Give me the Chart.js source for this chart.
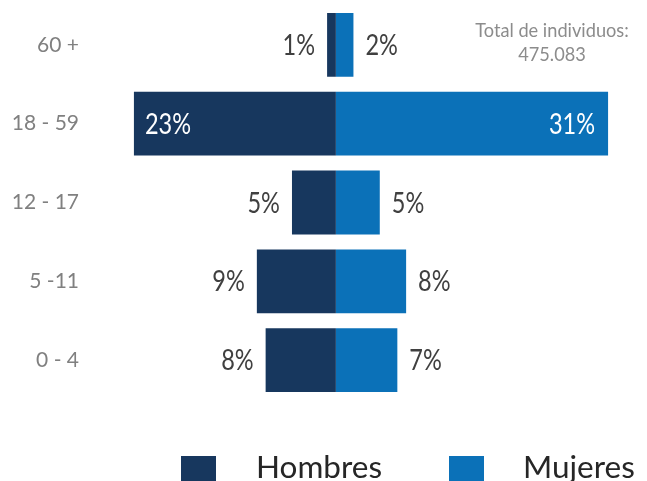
<!DOCTYPE html>
<html>
<head>
<meta charset="utf-8">
<script src="https://cdn.jsdelivr.net/npm/chart.js@4.4.0/dist/chart.umd.min.js"></script>
<style>
    html, body { margin: 0; padding: 0; background: #fff; }
    #wrap { width: 647px; height: 481px; position: relative; }
</style>
</head>
<body>
<div id="wrap"><canvas id="pyramidChart"></canvas></div>
<script>
// Pyramid data (percent of total)
const ageGroups = ["60 +", "18 - 59", "12 - 17", "5 -11", "0 - 4"];
const hombres = [1, 23, 5, 9, 8];
const mujeres = [2, 31, 5, 8, 7];
const seriesNames = ["Hombres", "Mujeres"];
const seriesColors = ["#17375E", "#0B71B8"];
const totalLines = ["Total de individuos:", "475.083"];

// Draws the percent labels next to / inside each bar
const barLabels = {
    id: "barLabels",
    afterDatasetsDraw(chart) {
        const ctx = chart.ctx;
        ctx.save();
        ctx.textBaseline = "middle";
        chart.data.datasets.forEach((ds, di) => {
            const meta = chart.getDatasetMeta(di);
            meta.data.forEach((bar, i) => {
                const v = Math.abs(ds.data[i]);
                const txt = Math.round(v) + "%";
                const left = bar.x < bar.base;
                const inside = v > 15;
                let x, align;
                if (inside) {
                    ctx.fillStyle = "#ffffff";
                    x = left ? bar.x + 11 : bar.x - 13;
                    align = left ? "left" : "right";
                } else {
                    ctx.fillStyle = "#404040";
                    x = left ? bar.x - 12 : bar.x + 12;
                    align = left ? "right" : "left";
                }
                ctx.font = "28px Lato";
                ctx.textAlign = align;
                // the original text is a bit narrow, squeeze it horizontally
                ctx.save();
                ctx.translate(x, bar.y + 1);
                ctx.scale(0.84, 1);
                ctx.fillText(txt, 0, 0);
                ctx.restore();
            });
        });
        ctx.restore();
    }
};

// Total box top right + legend at the bottom
const extras = {
    id: "extras",
    afterDraw(chart) {
        const ctx = chart.ctx;
        ctx.save();
        ctx.fillStyle = "#8C8C8C";
        ctx.font = "20px Lato";
        ctx.textAlign = "center";
        ctx.textBaseline = "middle";
        totalLines.forEach((line, i) => {
            ctx.save();
            ctx.translate(552, 31 + i * 24);
            ctx.scale(0.91, 1);
            ctx.fillText(line, 0, 0);
            ctx.restore();
        });

        const boxX = [181, 449];
        const textX = [256, 523];
        ctx.font = "31.5px Lato";
        ctx.textAlign = "left";
        ctx.textBaseline = "alphabetic";
        seriesNames.forEach((name, i) => {
            ctx.fillStyle = seriesColors[i];
            ctx.fillRect(boxX[i], 456, 35, 35);
            ctx.fillStyle = "#262626";
            ctx.fillText(name, textX[i], 478);
        });
        ctx.restore();
    }
};

new Chart(document.getElementById("pyramidChart").getContext("2d"), {
    type: "bar",
    data: {
        labels: ageGroups,
        datasets: [
            {
                label: seriesNames[0],
                data: hombres.map(v => -v),
                backgroundColor: seriesColors[0],
                categoryPercentage: 1,
                barPercentage: 0.81
            },
            {
                label: seriesNames[1],
                data: mujeres,
                backgroundColor: seriesColors[1],
                categoryPercentage: 1,
                barPercentage: 0.81
            }
        ]
    },
    options: {
        indexAxis: "y",
        responsive: true,
        maintainAspectRatio: false,
        animation: false,
        layout: { padding: { top: 5.5, bottom: 81.5, left: 0, right: 3.8 } },
        scales: {
            x: {
                stacked: true,
                display: false,
                min: -28.23,
                max: 35
            },
            y: {
                stacked: true,
                grid: { display: false, drawTicks: false },
                border: { display: false },
                ticks: {
                    padding: 9,
                    color: "#808080",
                    font: { family: "Lato", size: 21 }
                },
                afterFit(scale) {
                    scale.width = 88;
                    scale.paddingTop = 0;
                    scale.paddingBottom = 0;
                }
            }
        },
        plugins: {
            legend: { display: false },
            tooltip: { enabled: false }
        }
    },
    plugins: [barLabels, extras]
});
</script>
</body>
</html>
